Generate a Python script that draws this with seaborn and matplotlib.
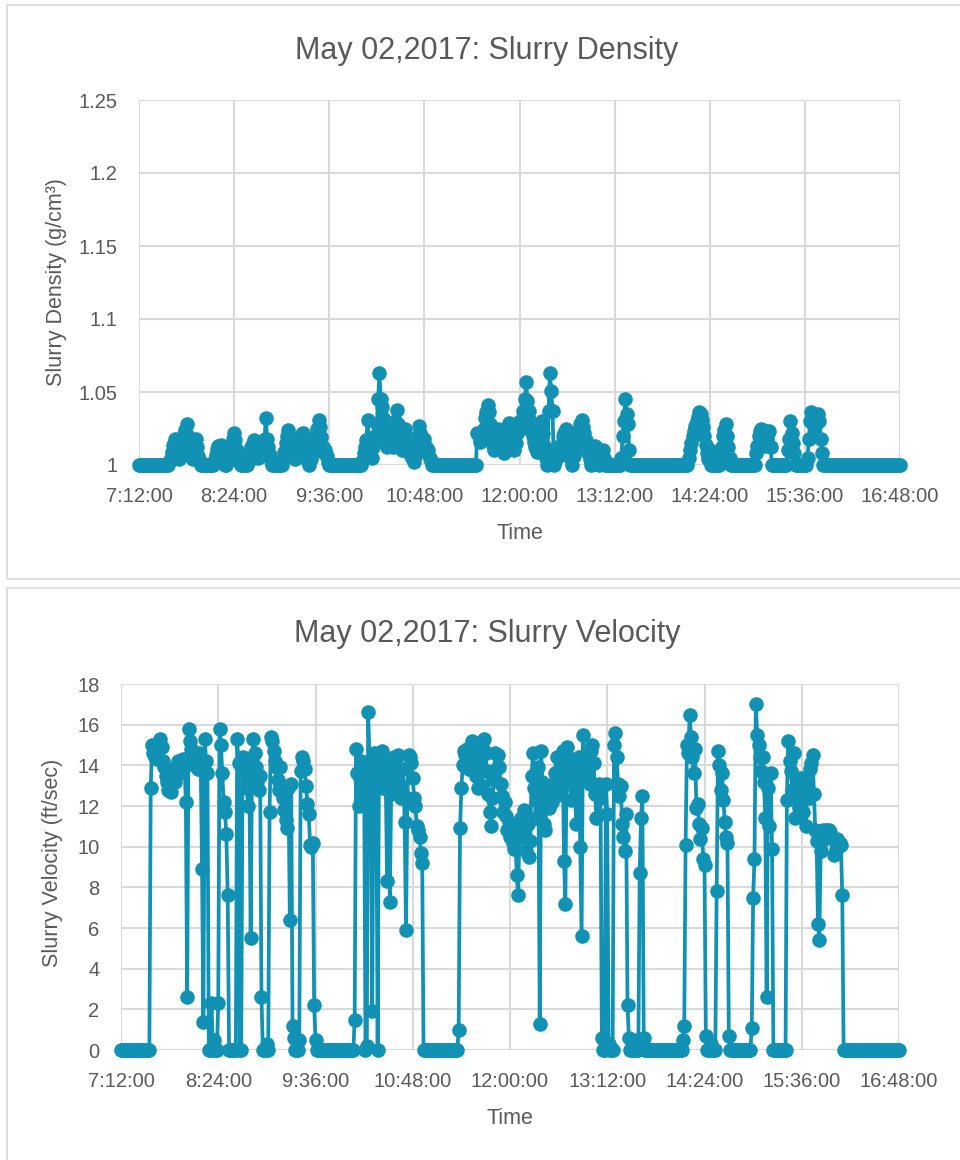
import matplotlib
matplotlib.use("Agg")
import matplotlib.pyplot as plt
from matplotlib.patches import Rectangle
from matplotlib.ticker import FuncFormatter
import pandas as pd
import seaborn as sns

# ---------------------------------------------------------------------------
# Logger readings for 2 May 2017, one reading per minute from 07:12 to 16:48.
# Each block below holds 72 consecutive readings (12 per row).
# ---------------------------------------------------------------------------
FIRST_READING = "07:12"
LAST_READING = "16:48"

# Slurry velocity (ft/sec)
velocity_0712 = [
    0, 0, 0, 0, 0, 0, 0, 0, 0, 0, 0, 0,
    0, 0, 0, 0, 0, 0, 0, 0, 0, 0, 12.9, 15.0,
    14.6, 14.4, 14.8, 14.3, 14.9, 15.3, 14.9, 14.2, 13.9, 13.5, 13.2, 12.8,
    13.4, 12.7, 13.1, 13.8, 13.2, 13.9, 14.2, 13.6, 14.1, 14.0, 14.3, 14.1,
    12.2, 2.6, 15.8, 15.2, 14.8, 14.4, 14.0, 14.5, 14.2, 13.8, 14.6, 14.1,
    8.9, 1.4, 15.3, 14.2, 13.6, 0, 0, 2.3, 0, 0.5, 0, 0,
]
velocity_0824 = [
    2.3, 15.8, 15.0, 13.6, 12.2, 11.7, 10.6, 7.6, 0, 0, 0, 0,
    0, 0, 15.3, 14.1, 0, 0, 14.4, 14.0, 13.5, 12.9, 12.0, 13.6,
    5.5, 14.2, 15.3, 14.6, 13.9, 13.2, 12.8, 13.5, 2.6, 0, 0, 0,
    0.3, 0, 11.7, 15.4, 15.2, 14.7, 14.2, 13.9, 13.3, 12.8, 13.9, 12.9,
    12.4, 11.8, 11.3, 10.9, 12.9, 6.4, 13.1, 1.2, 0.6, 0, 0, 0,
    0.5, 13.7, 14.4, 14.2, 13.8, 13.0, 12.1, 11.6, 10.1, 10.0, 10.2, 2.2,
]
velocity_0936 = [
    0.5, 0, 0, 0, 0, 0, 0, 0, 0, 0, 0, 0,
    0, 0, 0, 0, 0, 0, 0, 0, 0, 0, 0, 0,
    0, 0, 0, 0, 0, 1.5, 14.8, 13.6, 12.0, 13.4, 14.2, 12.6,
    13.8, 0, 0.2, 16.6, 14.2, 13.5, 1.9, 14.6, 13.9, 14.3, 0, 14.6,
    13.8, 14.7, 12.9, 14.1, 13.3, 8.3, 14.0, 7.3, 12.6, 13.9, 14.4, 14.2,
    13.6, 14.5, 13.1, 12.4, 12.7, 13.8, 11.2, 5.9, 12.4, 14.5, 14.4, 14.1,
]
velocity_1048 = [
    13.4, 12.4, 12.0, 11.0, 10.8, 10.5, 9.7, 9.2, 0, 0, 0, 0,
    0, 0, 0, 0, 0, 0, 0, 0, 0, 0, 0, 0,
    0, 0, 0, 0, 0, 0, 0, 0, 0, 0, 1.0, 10.9,
    12.9, 14.0, 14.7, 14.5, 14.8, 14.3, 13.8, 14.6, 15.2, 14.9, 14.1, 13.5,
    12.9, 13.6, 14.2, 13.0, 14.8, 15.3, 14.6, 13.7, 12.6, 11.7, 11.0, 12.4,
    13.3, 14.6, 13.8, 14.5, 13.9, 13.1, 12.5, 11.7, 12.2, 11.5, 10.8, 11.2,
]
velocity_1200 = [
    10.5, 11.0, 10.2, 9.9, 10.4, 8.6, 7.6, 10.8, 11.4, 10.9, 11.8, 10.4,
    9.8, 11.1, 9.5, 10.3, 13.5, 14.6, 12.9, 11.4, 12.3, 13.9, 1.3, 14.7,
    13.2, 11.1, 10.8, 12.0, 12.6, 11.9, 12.8, 12.2, 13.1, 13.6, 12.5, 14.4,
    13.2, 13.9, 12.9, 14.7, 9.3, 7.2, 14.9, 14.4, 13.8, 12.3, 13.5, 14.2,
    12.9, 11.1, 13.6, 14.4, 10.0, 5.6, 15.5, 14.4, 14.0, 13.5, 14.2, 13.1,
    14.7, 15.0, 14.1, 12.6, 11.4, 12.8, 13.1, 12.4, 0.6, 0, 0, 13.1,
]
velocity_1312 = [
    11.6, 0.3, 0, 0, 0, 15.0, 15.6, 14.4, 13.1, 12.5, 13.0, 11.1,
    10.5, 9.8, 11.6, 2.2, 0.6, 0, 0, 0.3, 0, 0, 0.5, 0,
    8.7, 11.4, 12.5, 0.6, 0, 0, 0, 0, 0, 0, 0, 0,
    0, 0, 0, 0, 0, 0, 0, 0, 0, 0, 0, 0,
    0, 0, 0, 0, 0, 0, 0, 0, 0.5, 1.2, 10.1, 15.0,
    14.6, 16.5, 15.4, 14.4, 13.6, 14.8, 11.9, 12.1, 11.1, 10.4, 10.9, 9.4,
]
velocity_1424 = [
    9.1, 0.7, 0, 0, 0, 0.3, 0, 0, 0, 7.8, 14.7, 14.0,
    12.8, 13.6, 12.3, 11.2, 10.5, 10.2, 0.7, 0, 0, 0, 0, 0,
    0, 0, 0, 0, 0, 0, 0, 0, 0, 0, 0, 1.1,
    7.5, 9.4, 17.0, 15.5, 15.0, 14.4, 13.7, 14.4, 13.2, 11.4, 2.6, 12.9,
    11.0, 13.6, 9.9, 0, 0, 0, 0, 0, 0, 0, 0, 0,
    0, 12.3, 15.2, 14.2, 13.7, 12.8, 14.6, 11.4, 12.3, 13.4, 11.9, 12.8,
]
velocity_1536 = [
    13.4, 11.7, 12.9, 11.0, 13.1, 12.4, 13.8, 14.1, 14.5, 12.6, 10.8, 10.3,
    6.2, 5.4, 9.8, 10.3, 10.8, 10.7, 10.8, 10.6, 10.8, 10.7, 10.5, 10.4,
    9.6, 9.9, 10.4, 10.0, 10.2, 10.1, 7.6, 0, 0, 0, 0, 0,
    0, 0, 0, 0, 0, 0, 0, 0, 0, 0, 0, 0,
    0, 0, 0, 0, 0, 0, 0, 0, 0, 0, 0, 0,
    0, 0, 0, 0, 0, 0, 0, 0, 0, 0, 0, 0,
]
velocity_1648 = [0]

# Slurry density (g/cm3)
density_0712 = [
    1, 1, 1, 1, 1, 1, 1, 1, 1, 1, 1, 1,
    1, 1, 1, 1, 1, 1, 1, 1, 1, 1, 1, 1.002,
    1.005, 1.009, 1.014, 1.018, 1.012, 1.006, 1.004, 1.008, 1.012, 1.016, 1.021, 1.024,
    1.028, 1.020, 1.014, 1.010, 1.005, 1.004, 1.009, 1.018, 1.012, 1.006, 1.003, 1,
    1, 1, 1, 1, 1, 1, 1, 1, 1, 1.003, 1.007, 1.011,
    1.013, 1.010, 1.014, 1.008, 1.003, 1, 1, 1.005, 1.010, 1.008, 1.014, 1.018,
]
density_0824 = [
    1.022, 1.017, 1.010, 1.006, 1.002, 1, 1, 1, 1, 1, 1, 1.003,
    1.008, 1.012, 1.015, 1.017, 1.013, 1.009, 1.005, 1.008, 1.012, 1.009, 1.013, 1.018,
    1.032, 1.018, 1.012, 1.007, 1.003, 1, 1, 1, 1, 1, 1, 1,
    1, 1.004, 1.009, 1.015, 1.020, 1.024, 1.018, 1.012, 1.015, 1.008, 1.004, 1.008,
    1.012, 1.016, 1.019, 1.021, 1.022, 1.015, 1.009, 1.005, 1.002, 1, 1.004, 1.008,
    1.012, 1.016, 1.020, 1.025, 1.031, 1.026, 1.019, 1.012, 1.008, 1.010, 1.006, 1.002,
]
density_0936 = [
    1, 1, 1, 1, 1, 1, 1, 1, 1, 1, 1, 1,
    1, 1, 1, 1, 1, 1, 1, 1, 1, 1, 1, 1,
    1, 1.003, 1.008, 1.012, 1.017, 1.031, 1.017, 1.010, 1.005, 1.012, 1.016, 1.020,
    1.028, 1.045, 1.063, 1.045, 1.040, 1.032, 1.025, 1.018, 1.012, 1.020, 1.026, 1.018,
    1.012, 1.022, 1.030, 1.038, 1.028, 1.020, 1.014, 1.010, 1.018, 1.025, 1.020, 1.012,
    1.008, 1.015, 1.010, 1.005, 1.002, 1.006, 1.014, 1.020, 1.027, 1.022, 1.018, 1.012,
]
density_1048 = [
    1.018, 1.012, 1.008, 1.010, 1.005, 1.003, 1, 1, 1, 1, 1, 1,
    1, 1, 1, 1, 1, 1, 1, 1, 1, 1, 1, 1,
    1, 1, 1, 1, 1, 1, 1, 1, 1, 1, 1, 1,
    1, 1, 1, 1, 1.022, 1.020, 1.016, 1.022, 1.018, 1.025, 1.032, 1.036,
    1.041, 1.036, 1.028, 1.020, 1.014, 1.010, 1.012, 1.018, 1.025, 1.020, 1.015, 1.010,
    1.008, 1.013, 1.020, 1.026, 1.029, 1.024, 1.018, 1.013, 1.010, 1.015, 1.022, 1.027,
]
density_1200 = [
    1.030, 1.025, 1.030, 1.037, 1.045, 1.057, 1.044, 1.037, 1.030, 1.024, 1.020, 1.016,
    1.012, 1.009, 1.014, 1.020, 1.026, 1.030, 1.022, 1.012, 1.005, 1, 1.037, 1.063,
    1.051, 1.037, 1, 1.003, 1.008, 1.012, 1.006, 1.010, 1.015, 1.020, 1.022, 1.025,
    1.018, 1.012, 1.008, 1.004, 1, 1.006, 1.010, 1.015, 1.020, 1.024, 1.028, 1.031,
    1.026, 1.022, 1.017, 1.012, 1.008, 1.004, 1, 1.006, 1.010, 1.013, 1.008, 1.004,
    1, 1.003, 1.007, 1.010, 1.005, 1, 1, 1, 1, 1, 1, 1,
]
density_1312 = [
    1, 1, 1, 1, 1, 1.005, 1.020, 1.030, 1.045, 1.035, 1.028, 1.010,
    1, 1, 1, 1, 1, 1, 1, 1, 1, 1, 1, 1,
    1, 1, 1, 1, 1, 1, 1, 1, 1, 1, 1, 1,
    1, 1, 1, 1, 1, 1, 1, 1, 1, 1, 1, 1,
    1, 1, 1, 1, 1, 1, 1, 1, 1.005, 1.010, 1.015, 1.020,
    1.023, 1.027, 1.030, 1.033, 1.036, 1.035, 1.031, 1.026, 1.020, 1.014, 1.008, 1.004,
]
density_1424 = [
    1.010, 1, 1, 1, 1, 1, 1, 1, 1.005, 1.012, 1.020, 1.024,
    1.028, 1.020, 1.012, 1.005, 1, 1, 1, 1, 1, 1, 1, 1,
    1, 1, 1, 1, 1, 1, 1, 1, 1, 1, 1, 1.008,
    1.013, 1.020, 1.023, 1.025, 1.024, 1.018, 1.013, 1.018, 1.022, 1.023, 1.012, 1,
    1, 1, 1, 1, 1, 1, 1, 1, 1, 1, 1, 1.010,
    1.018, 1.030, 1.022, 1.015, 1.008, 1, 1, 1, 1, 1, 1, 1,
]
density_1536 = [
    1, 1, 1.005, 1.018, 1.030, 1.036, 1.028, 1.020, 1.026, 1.030, 1.035, 1.030,
    1.018, 1.008, 1, 1, 1, 1, 1, 1, 1, 1, 1, 1,
    1, 1, 1, 1, 1, 1, 1, 1, 1, 1, 1, 1,
    1, 1, 1, 1, 1, 1, 1, 1, 1, 1, 1, 1,
    1, 1, 1, 1, 1, 1, 1, 1, 1, 1, 1, 1,
    1, 1, 1, 1, 1, 1, 1, 1, 1, 1, 1, 1,
]
density_1648 = [1]

# Axis ticks
time_ticks = ["7:12:00", "8:24:00", "9:36:00", "10:48:00", "12:00:00",
              "13:12:00", "14:24:00", "15:36:00", "16:48:00"]
density_ticks = [1, 1.05, 1.1, 1.15, 1.2, 1.25]
velocity_ticks = [0, 2, 4, 6, 8, 10, 12, 14, 16, 18]

# ---------------------------------------------------------------------------
velocity = (velocity_0712 + velocity_0824 + velocity_0936 + velocity_1048
            + velocity_1200 + velocity_1312 + velocity_1424 + velocity_1536
            + velocity_1648)
density = (density_0712 + density_0824 + density_0936 + density_1048
           + density_1200 + density_1312 + density_1424 + density_1536
           + density_1648)

clock = pd.date_range(f"2017-05-02 {FIRST_READING}",
                      f"2017-05-02 {LAST_READING}", freq="1min")
readings = pd.DataFrame({
    "minute": clock.hour * 60 + clock.minute,
    "velocity": velocity,
    "density": density,
})


def clock_to_minutes(label):
    h, m, _ = label.split(":")
    return int(h) * 60 + int(m)


tick_minutes = [clock_to_minutes(t) for t in time_ticks]

TEAL = "#1192b4"
TEXT = "#595959"
GRID = "#d9d9d9"
W, H = 960, 1160

sns.set_theme(style="white")
plt.rcParams["font.family"] = ["Liberation Sans", "DejaVu Sans"]

fig = plt.figure(figsize=(W / 100, H / 100), dpi=100)
fig.patch.set_facecolor("white")

# chart-area borders
fig.add_artist(Rectangle((7 / W, 1 - 579 / H), 1.0, (579 - 5) / H,
                         transform=fig.transFigure, fill=False,
                         edgecolor=GRID, linewidth=1.2))
fig.add_artist(Rectangle((7 / W, -0.1), 1.0, (1 - 588 / H) + 0.1,
                         transform=fig.transFigure, fill=False,
                         edgecolor=GRID, linewidth=1.2))


def px_axes(left, top, right, bottom):
    return fig.add_axes([left / W, 1 - bottom / H, (right - left) / W,
                         (bottom - top) / H])


ax_d = px_axes(139, 100, 900, 465)
ax_v = px_axes(121, 684, 899, 1050)

panels = [
    (ax_d, "density", density_ticks, "Slurry Density (g/cm³)",
     "May 02,2017: Slurry Density", 58.7, (-0.1078, 0.5), -0.2038),
    (ax_v, "velocity", velocity_ticks, "Slurry Velocity (ft/sec)",
     "May 02,2017: Slurry Velocity", 642.2, (-0.0876, 0.511), -0.2022),
]

for ax, col, yticks, ylabel, title, title_base, ylab_xy, xlab_y in panels:
    sns.lineplot(data=readings, x="minute", y=col, ax=ax, color=TEAL,
                 linewidth=2.7, marker="o", markersize=10.5,
                 markeredgewidth=0, estimator=None, sort=False,
                 legend=False, clip_on=False, zorder=3)
    ax.set_xlim(tick_minutes[0], tick_minutes[-1])
    ax.set_ylim(yticks[0], yticks[-1])
    ax.set_xticks(tick_minutes, labels=time_ticks)
    ax.set_yticks(yticks)
    ax.yaxis.set_major_formatter(FuncFormatter(lambda v, _: f"{v:g}"))
    ax.grid(True, color=GRID, linewidth=1.5)
    ax.set_axisbelow(True)
    for s in ax.spines.values():
        s.set_visible(False)
    ax.tick_params(axis="both", length=0, labelsize=14.5, labelcolor=TEXT)
    ax.tick_params(axis="x", pad=16)
    ax.tick_params(axis="y", pad=15.5)

    ax.set_xlabel("Time", fontsize=15.5, color=TEXT)
    ax.xaxis.label.set_verticalalignment("baseline")
    ax.xaxis.set_label_coords(0.5, xlab_y)
    ax.set_ylabel(ylabel, fontsize=15.5, color=TEXT)
    ax.yaxis.label.set_verticalalignment("center")
    ax.yaxis.set_label_coords(*ylab_xy)

    fig.text(487 / W, 1 - title_base / H, title, ha="center",
             va="baseline", fontsize=22, color=TEXT)

fig.savefig("out.png", dpi=100)
